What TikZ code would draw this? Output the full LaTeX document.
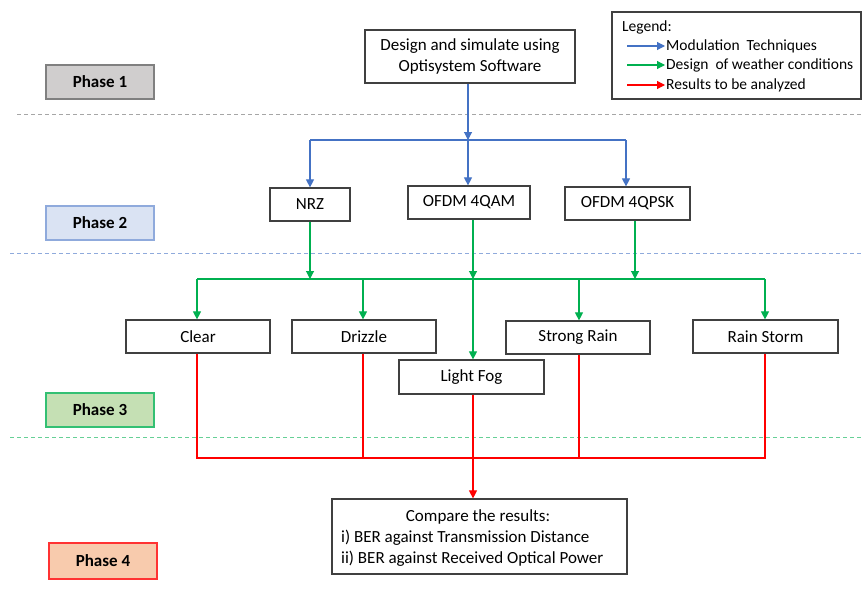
\documentclass[tikz,border=0pt]{standalone}
\usepackage{fontspec}
\setmainfont{Carlito}
\usetikzlibrary{arrows.meta}
\definecolor{mblue}{HTML}{4472C4}
\definecolor{mgreen}{HTML}{00B050}
\definecolor{mred}{HTML}{FF0000}
\definecolor{edge}{HTML}{404040}
\definecolor{p1fill}{HTML}{D0CECE}
\definecolor{p2fill}{HTML}{DAE3F3}
\definecolor{p2edge}{HTML}{8FAADC}
\definecolor{p3fill}{HTML}{C5E0B4}
\definecolor{p4fill}{HTML}{F8CBAD}
\tikzset{
  box/.style={draw=edge, line width=1.2pt, fill=white, inner sep=0pt, align=center,
    font=\fontsize{17}{21}\selectfont},
  phasebox/.style={line width=1.1pt, inner sep=0pt, minimum width=108pt, minimum height=34pt,
    font=\fontsize{17}{20}\selectfont\bfseries},
  tip/.style={-{Triangle[length=8pt,width=8pt]}},
  bl/.style={draw=mblue, line width=1.1pt},
  gr/.style={draw=mgreen, line width=1.1pt},
  rd/.style={draw=mred, line width=1.1pt},
  sep/.style={line width=1pt, dash pattern=on 4pt off 3pt},
  legtext/.style={anchor=west, inner sep=0pt, font=\fontsize{15.5}{18}\selectfont},
  cmptext/.style={inner sep=0pt, font=\fontsize{17}{21}\selectfont}
}
\begin{document}
\begin{tikzpicture}[x=1pt,y=-1pt]
\useasboundingbox (0,0) rectangle (862,589);
% separators
\draw[sep, gray!70] (17,114) -- (862,114);
\draw[sep, p2edge] (10,253) -- (862,253);
\draw[sep, mgreen!60] (10,437) -- (862,437);
% phase boxes
\node[phasebox, draw=gray, fill=p1fill] (ph1) at (100,82) {Phase 1};
\node[phasebox, draw=p2edge, fill=p2fill] (ph2) at (100,223) {Phase 2};
\node[phasebox, draw=mgreen!80, fill=p3fill] (ph3) at (100,410) {Phase 3};
\node[phasebox, draw=mred!80, fill=p4fill, minimum height=36pt] (ph4) at (103,561) {Phase 4};
% legend
\node[draw=edge, line width=1.2pt, minimum width=249pt, minimum height=87pt, inner sep=0pt] (leg) at (736.5,55.5) {};
\node[legtext] (legt) at (622,27) {Legend:};
\coordinate (la1) at (627,46); \coordinate (lb1) at (665,46);
\coordinate (la2) at (627,65); \coordinate (lb2) at (665,65);
\coordinate (la3) at (627,85); \coordinate (lb3) at (665,85);
\draw[bl, tip] (la1) -- (lb1);
\draw[gr, tip] (la2) -- (lb2);
\draw[rd, tip] (la3) -- (lb3);
\node[legtext] (l1) at (666,46) {Modulation\ \ Techniques};
\node[legtext] (l2) at (666,65) {Design\ \ of weather conditions};
\node[legtext] (l3) at (666,85) {Results to be analyzed};
% main boxes
\node[box, minimum width=210pt, minimum height=53pt] (des) at (470,56.5) {Design and simulate using\\Optisystem Software};
\node[box, minimum width=80pt, minimum height=33pt] (nrz) at (310,204.5) {NRZ};
\node[box, minimum width=122pt, minimum height=33pt] (qam) at (469,202.5) {OFDM 4QAM};
\node[box, minimum width=125pt, minimum height=33pt] (qpsk) at (627.5,203.5) {OFDM 4QPSK};
\node[box, minimum width=144pt, minimum height=33pt] (clear) at (198,336.5) {Clear};
\node[box, minimum width=144pt, minimum height=33pt] (driz) at (364,336.5) {Drizzle};
\node[box, minimum width=145pt, minimum height=34pt] (fog) at (471.5,377) {Light Fog};
\node[box, minimum width=144pt, minimum height=33pt] (strong) at (578,337.5) {Strong Rain};
\node[box, minimum width=145pt, minimum height=33pt] (storm) at (765.5,336.5) {Rain Storm};
\node[box, minimum width=295pt, minimum height=75pt] (cmp) at (479.5,536.5) {};
\node[cmptext] (c1) at (478,517) {Compare the results:};
\node[cmptext, anchor=west] (c2) at (341,538) {i) BER against Transmission Distance};
\node[cmptext, anchor=west] (c3) at (341,559) {ii) BER against Received Optical Power};
% blue connectors
\coordinate (hb) at (468,140);
\coordinate (hbl) at (310,140);
\coordinate (hbr) at (626,140);
\draw[bl, tip] (des.south -| hb) -- (hb);
\draw[bl] (hbl) -- (hbr);
\draw[bl, tip] (hbl) -- (hbl |- nrz.north);
\draw[bl, tip] (hb) -- (hb |- qam.north);
\draw[bl, tip] (hbr) -- (hbr |- qpsk.north);
% green connectors
\coordinate (g1) at (310,279);
\coordinate (g2) at (473,279);
\coordinate (g3) at (635,279);
\coordinate (gl) at (197,279);
\coordinate (gd) at (363,279);
\coordinate (gs) at (579,279);
\coordinate (gr) at (765,279);
\draw[gr] (gl) -- (gr);
\draw[gr, tip] (nrz.south -| g1) -- (g1);
\draw[gr, tip] (qam.south -| g2) -- (g2);
\draw[gr, tip] (qpsk.south -| g3) -- (g3);
\draw[gr, tip] (gl) -- (gl |- clear.north);
\draw[gr, tip] (gd) -- (gd |- driz.north);
\draw[gr, tip] (g2) -- (g2 |- fog.north);
\draw[gr, tip] (gs) -- (gs |- strong.north);
\draw[gr, tip] (gr) -- (gr |- storm.north);
% red connectors
\coordinate (r1) at (197,458);
\coordinate (r2) at (363,458);
\coordinate (r4) at (579,458);
\coordinate (r5) at (765,458);
\draw[rd] (clear.south -| r1) -- (r1) -- (r5) -- (storm.south -| r5);
\draw[rd] (driz.south -| r2) -- (r2);
\draw[rd] (strong.south -| r4) -- (r4);
\draw[rd, tip] (fog.south -| g2) -- (g2 |- cmp.north);
\end{tikzpicture}
\end{document}
